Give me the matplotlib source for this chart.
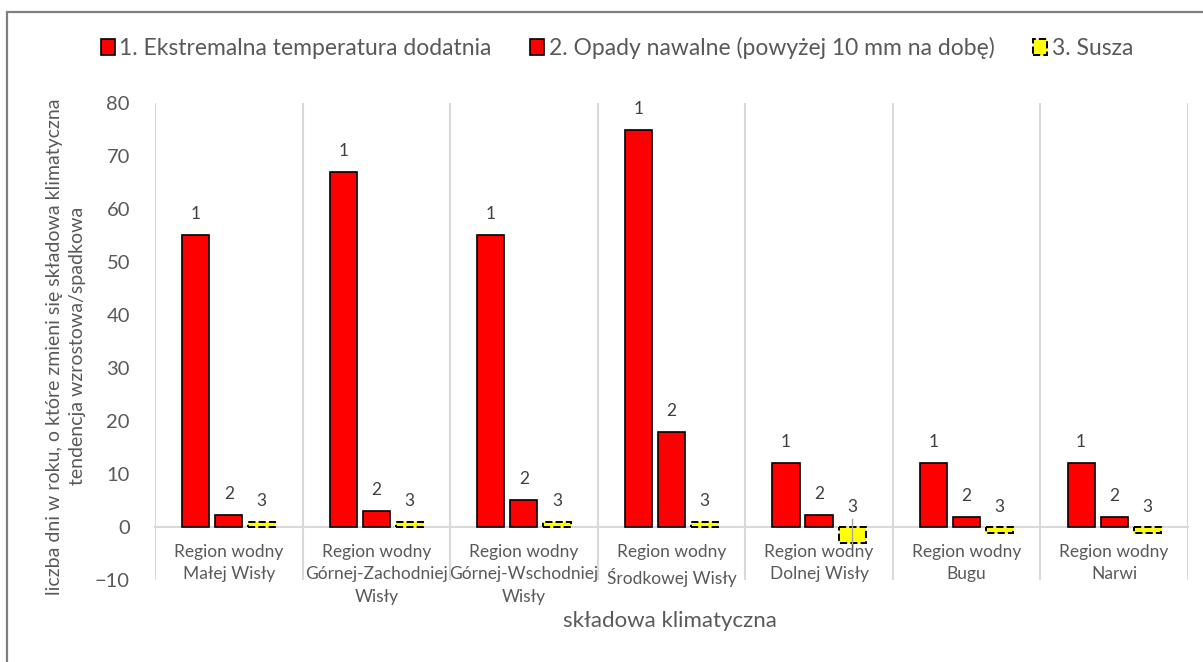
import numpy as np
import matplotlib
matplotlib.use("Agg")
import matplotlib.pyplot as plt
from matplotlib.patches import Rectangle, Patch

plt.rcParams['font.family'] = ['Lato', 'DejaVu Sans']

# data
regions = [
    "Region wodny\nMałej Wisły",
    "Region wodny\nGórnej-Zachodniej\nWisły",
    "Region wodny\nGórnej-Wschodniej\nWisły",
    "Region wodny\nŚrodkowej Wisły",
    "Region wodny\nDolnej Wisły",
    "Region wodny\nBugu",
    "Region wodny\nNarwi",
]
series_names = [
    "1. Ekstremalna temperatura dodatnia",
    "2. Opady nawalne (powyżej 10 mm na dobę)",
    "3. Susza",
]
series_tags = ["1", "2", "3"]
temp_ext = [55, 67, 55, 75, 12, 12, 12]
opady = [2.2, 3, 5, 18, 2.2, 1.8, 1.8]
susza = [1, 1, 1, 1, -3, -1.2, -1.2]
y_ticks = [-10, 0, 10, 20, 30, 40, 50, 60, 70, 80]

TXT = '#595959'
GRID = '#d9d9d9'

fig = plt.figure(figsize=(12.03, 6.62), dpi=100)
ax = fig.add_axes([0.1288, 0.1239, 0.8587, 0.7205])

x = np.arange(len(regions))
width = 0.184
step = 0.224
styles = [
    dict(color='#ff0000', edgecolor='black', linewidth=1.2, linestyle='-'),
    dict(color='#ff0000', edgecolor='black', linewidth=1.2, linestyle='-'),
    dict(color='#ffff00', edgecolor='black', linewidth=1.4, linestyle='--'),
]

for k, vals in enumerate([temp_ext, opady, susza]):
    xs = x + (k - 1) * step
    ax.bar(xs, vals, width, zorder=3, **styles[k])
    for xi, v in zip(xs, vals):
        off = 13 if v >= 0 else 12
        ax.annotate(series_tags[k], (xi, max(v, 0)), xytext=(0, off),
                    textcoords='offset pixels', ha='center', va='bottom',
                    fontsize=12.5, color='#404040', zorder=4)
        # leader line where the label sits far from the bar
        if v < -2:
            ax.plot([xi, xi], [v, 1.6], color='#a6a6a6', lw=1, zorder=4)

ax.set_xlim(-0.5, len(regions) - 0.5)
ax.set_ylim(-10, 80)
ax.set_yticks(y_ticks)
ax.set_xticks(x)
ax.set_xticks(np.arange(-0.5, len(regions)), minor=True)
ax.set_xticklabels(regions)
ax.grid(which='minor', axis='x', color=GRID, lw=1.5, zorder=0)
ax.tick_params(axis='x', which='both', length=0, pad=12)
ax.tick_params(axis='x', which='major', labelsize=12.5, labelcolor=TXT)
ax.tick_params(axis='y', length=0, pad=18, labelsize=14.5, labelcolor=TXT)

for s in ['top', 'right', 'left']:
    ax.spines[s].set_visible(False)
ax.spines['bottom'].set_position(('data', 0))
ax.spines['bottom'].set_color(GRID)
ax.spines['bottom'].set_linewidth(1.5)
ax.spines['bottom'].set_zorder(2)

ax.set_ylabel("liczba dni w roku, o które zmieni się składowa klimatyczna\n"
              "tendencja wzrostowa/spadkowa", fontsize=14, color=TXT,
              linespacing=1.4)
ax.yaxis.set_label_coords(-0.067, 0.49)
fig.text(670 / 1203, 1 - 621 / 662, "składowa klimatyczna", ha='center',
         va='center', fontsize=16, color=TXT)

handles = [Patch(facecolor=s['color'], edgecolor='black',
                 linewidth=s['linewidth'], linestyle=s['linestyle'])
           for s in styles]
fig.legend(handles, series_names, loc='center', ncol=3,
           bbox_to_anchor=(617 / 1203, 1 - 48 / 662), frameon=False,
           fontsize=16.5, labelcolor=TXT, handlelength=0.6,
           handleheight=0.75, handletextpad=0.2, columnspacing=1.7)

# outer chart frame (clipped at right/bottom as in the reference)
fig.patches.append(Rectangle((7 / 1203, -0.1), 1.2, 1 - 12 / 662 + 0.1,
                             transform=fig.transFigure, fill=False,
                             edgecolor='#7f7f7f', lw=1.6))

# ticks are only fully built after a draw; widen the label line spacing then
fig.canvas.draw()
for tick in ax.xaxis.get_major_ticks():
    tick.label1.set_linespacing(1.5)

fig.savefig("out.png", dpi=100)
